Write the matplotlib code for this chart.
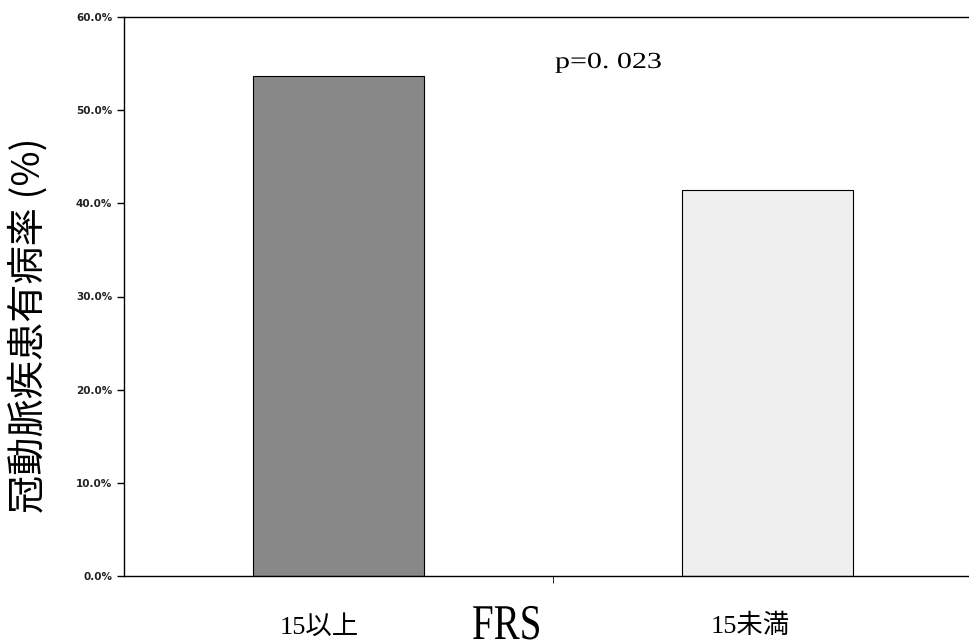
import matplotlib
matplotlib.use('Agg')
import matplotlib.pyplot as plt
from matplotlib.ticker import PercentFormatter
from matplotlib.textpath import TextPath
from matplotlib.patches import PathPatch
from matplotlib.font_manager import FontProperties
from matplotlib.transforms import Affine2D

categories = ['15以上', '15未満']
rates = [53.7, 41.4]
bar_colors = ['#888888', '#eeefee']
yticks = [0, 10, 20, 30, 40, 50, 60]
p_label = 'p=0. 023'
x_title = 'FRS'
y_title = '冠動脈疾患有病率 (%)'

W, H = 970, 641
fig = plt.figure(figsize=(W/100, H/100), dpi=100)
ax = fig.add_axes([124/W, 1-576/H, 858/W, 559/H])

x = list(range(len(categories)))
ax.bar(x, rates, width=0.4, color=bar_colors, edgecolor='black', linewidth=0.8)
ax.set_xlim(-0.5, 1.5)
ax.set_ylim(0, 60)
ax.set_yticks(yticks)
ax.yaxis.set_major_formatter(PercentFormatter(decimals=1))
ax.set_xticks([0.5])
ax.set_xticklabels([''])
ax.tick_params(axis='y', direction='out', length=5, width=1, labelsize=7.5)
ax.tick_params(axis='x', direction='out', length=5, width=0.6)
for lbl in ax.get_yticklabels():
    lbl.set_fontweight('bold')
    lbl.set_color('#222222')
for s in ax.spines.values():
    s.set_linewidth(1)

serif = ['Liberation Serif', 'Noto Sans CJK JP']
cjk = ['Noto Sans CJK JP', 'DejaVu Sans']


def stretched_text(s, left, base, em_w, em_h, family='Liberation Serif'):
    # draw condensed/stretched text in pixel coords (left, baseline from top)
    tp = TextPath((0, 0), s, size=1, prop=FontProperties(family=family))
    tr = Affine2D().scale(em_w, em_h).translate(left, H - base)
    fig.add_artist(PathPatch(tp, transform=tr, facecolor='black', edgecolor='none'))


# category labels and axis title drawn as free text
fig.text(319/W, 1-627/H, categories[0], fontsize=19, family=serif, ha='center', va='center')
fig.text(750/W, 1-626/H, categories[1], fontsize=19, family=serif, ha='center', va='center')
stretched_text(x_title, 472, 639, 39, 50)
stretched_text(p_label, 555, 68, 30, 23)
fig.text(29/W, 1-325/H, y_title, fontsize=27.5, family=cjk,
         rotation=90, ha='center', va='center')

fig.savefig('out.png', dpi=100)
